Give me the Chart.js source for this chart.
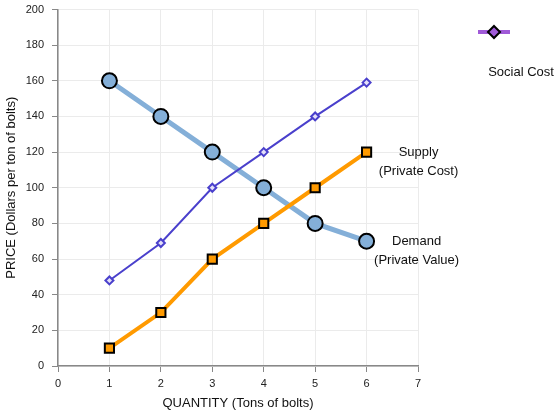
<!DOCTYPE html>
<html>
<head>
<meta charset="utf-8">
<script src="https://cdn.jsdelivr.net/npm/chart.js@4/dist/chart.umd.min.js"></script>
<style>
html,body{margin:0;padding:0;background:#fff;}
#wrap{position:relative;width:560px;height:418px;}
</style>
</head>
<body>
<div id="wrap"><canvas id="c" width="560" height="418"></canvas></div>
<script>
const quantities = [1, 2, 3, 4, 5, 6];
const demandValues = [160, 140, 120, 100, 80, 70];
const supplyValues = [10, 30, 60, 80, 100, 120];
const socialCostValues = [48, 69, 100, 120, 140, 159];
const xTicks = [0, 1, 2, 3, 4, 5, 6, 7];
const yTicks = [0, 20, 40, 60, 80, 100, 120, 140, 160, 180, 200];
const seriesNames = ['Demand', 'Supply', 'Social Cost'];
const labelSupply = ['Supply', '(Private Cost)'];
const labelDemand = ['Demand', '(Private Value)'];
const xTitle = 'QUANTITY (Tons of bolts)';
const yTitle = 'PRICE (Dollars per ton of bolts)';

const pts = arr => quantities.map((q, i) => ({x: q, y: arr[i]}));
const FONT = '"Liberation Sans", Arial, sans-serif';

const annot = {
  id: 'annot',
  afterDraw(chart) {
    const ctx = chart.ctx;
    const xs = chart.scales.x, ys = chart.scales.y;
    ctx.save();
    ctx.font = '13px ' + FONT;
    ctx.fillStyle = '#111';
    ctx.textAlign = 'center';
    ctx.textBaseline = 'middle';
    const sx = xs.getPixelForValue(quantities[5]) + 52;
    const sy = ys.getPixelForValue(supplyValues[5]);
    ctx.fillText(labelSupply[0], sx, sy);
    ctx.fillText(labelSupply[1], sx, sy + 19);
    const dx = xs.getPixelForValue(quantities[5]) + 50;
    const dy = ys.getPixelForValue(demandValues[5]);
    ctx.fillText(labelDemand[0], dx, dy);
    ctx.fillText(labelDemand[1], dx, dy + 19);
    // legend
    const lx = 494, ly = 32;
    ctx.strokeStyle = '#a05ad8';
    ctx.lineWidth = 4;
    ctx.beginPath(); ctx.moveTo(lx - 16, ly); ctx.lineTo(lx + 16, ly); ctx.stroke();
    ctx.beginPath();
    ctx.moveTo(lx, ly - 6); ctx.lineTo(lx + 6, ly); ctx.lineTo(lx, ly + 6); ctx.lineTo(lx - 6, ly); ctx.closePath();
    ctx.fillStyle = '#a05ad8';
    ctx.fill();
    ctx.lineWidth = 2;
    ctx.strokeStyle = '#000';
    ctx.stroke();
    ctx.fillStyle = '#111';
    ctx.fillText(seriesNames[2], 521, 72);
    ctx.restore();
  }
};

new Chart(document.getElementById('c'), {
  type: 'line',
  data: {
    datasets: [
      {
        label: seriesNames[2], data: pts(socialCostValues),
        borderColor: '#4a40cc', borderWidth: 2,
        pointStyle: 'rectRot', pointRadius: 4, pointBackgroundColor: '#e4e0f8',
        pointBorderColor: '#4a40cc', pointBorderWidth: 2, order: 1
      },
      {
        label: seriesNames[0], data: pts(demandValues),
        borderColor: '#84afd8', borderWidth: 5,
        pointStyle: 'circle', pointRadius: 7.5, pointBackgroundColor: '#84afd8',
        pointBorderColor: '#000', pointBorderWidth: 2, order: 3
      },
      {
        label: seriesNames[1], data: pts(supplyValues),
        borderColor: '#ff9a00', borderWidth: 4,
        pointStyle: 'rect', pointRadius: 6.5, pointBackgroundColor: '#ff9a00',
        pointBorderColor: '#000', pointBorderWidth: 2, order: 2
      }
    ]
  },
  options: {
    responsive: false,
    animation: false,
    layout: {padding: {top: 9, right: 142, left: 0, bottom: 0}},
    plugins: {legend: {display: false}, tooltip: {enabled: false}},
    scales: {
      x: {
        type: 'linear', min: 0, max: 7,
        afterBuildTicks: s => { s.ticks = xTicks.map(v => ({value: v})); },
        afterFit: s => { s.height = 52; s.paddingLeft = 0; s.paddingRight = 0; },
        grid: {color: '#ebebeb', tickColor: '#888', tickLength: 6},
        border: {color: '#888', width: 1.5},
        ticks: {color: '#222', font: {family: FONT, size: 11}, padding: 5},
        title: {display: true, text: xTitle, color: '#111', font: {family: FONT, size: 13}, padding: {top: 4, bottom: 7}}
      },
      y: {
        type: 'linear', min: 0, max: 200,
        afterBuildTicks: s => { s.ticks = yTicks.map(v => ({value: v})); },
        afterFit: s => { s.width = 58; s.paddingTop = 0; s.paddingBottom = 0; },
        grid: {color: '#ebebeb', tickColor: '#888', tickLength: 6},
        border: {color: '#888', width: 1.5},
        ticks: {color: '#222', font: {family: FONT, size: 11}, padding: 8},
        title: {display: true, text: yTitle, color: '#111', font: {family: FONT, size: 13}, padding: 4}
      }
    }
  },
  plugins: [annot]
});
</script>
</body>
</html>
